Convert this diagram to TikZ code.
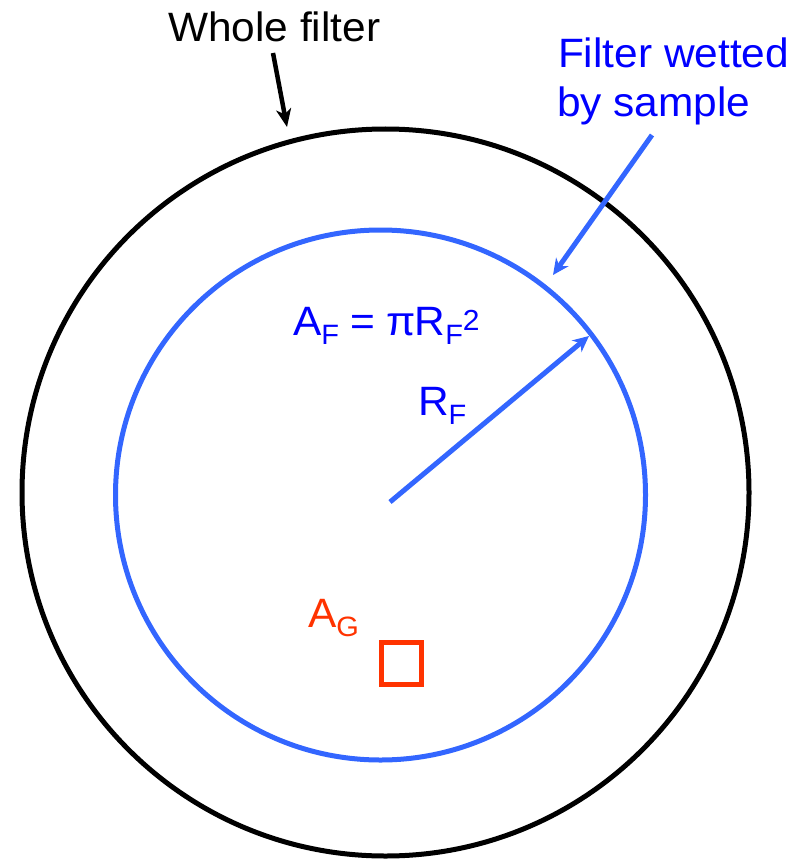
\documentclass[tikz,border=0pt]{standalone}
\usepackage{fontspec}
\setmainfont{Liberation Sans}[FakeStretch=1.035]
\usetikzlibrary{arrows.meta}
\definecolor{lineblue}{HTML}{3366FF}
\definecolor{textblue}{HTML}{0000FF}
\definecolor{agred}{HTML}{FF3300}
\newcommand\lowsub[1]{\raisebox{-9pt}{\fontsize{28}{28}\selectfont #1}}
\newcommand\highsup[1]{\raisebox{5pt}{\fontsize{29}{29}\selectfont #1}}
\begin{document}
\begin{tikzpicture}[x=1pt,y=-1pt,
  lbl/.style={inner sep=0pt, outer sep=0pt, anchor=base west, font=\fontsize{41}{49}\selectfont},
  ring/.style={line width=5pt},
  bluearrow/.style={draw=lineblue, line width=5pt, -{Stealth[length=16pt,width=15pt,inset=5pt]}},
  blackarrow/.style={draw=black, line width=4.5pt, -{Stealth[length=18pt,width=15pt,inset=5pt]}}]
\path[use as bounding box] (0,0) rectangle (802,861);
% circles
\draw[ring, black] (385.5,492.5) circle[radius=363.5];
\draw[ring, lineblue] (380.5,495) circle[radius=265];
% labels
\node[lbl, text=black] (whole) at (168,42) {Whole filter};
\node[lbl, text=textblue] (wet1) at (558,68) {Filter wetted};
\node[lbl, text=textblue] (wet2) at (557,117) {by sample};
\node[lbl, text=textblue] (af) at (293,335) {A\lowsub{F} = \kern-1ptπ\kern-1ptR\lowsub{F}\highsup{2}};
\node[lbl, text=textblue] (rf) at (418,415) {R\lowsub{F}};
\node[lbl, text=agred] (agl) at (308,627) {A\lowsub{G}};
\node[draw=agred, line width=5pt, minimum width=40pt, minimum height=42pt, inner sep=0pt, outer sep=0pt] (ag) at (401,663.5) {};
% connector ends
\coordinate (wstart) at (273,53);
\coordinate (wtip) at (287,127);
\coordinate (bstart) at (652,135);
\coordinate (btip) at (553,275);
\coordinate (rstart) at (390,502);
\coordinate (rtip) at (589,336);
\draw[blackarrow] (wstart) -- (wtip);
\draw[bluearrow] (bstart) -- (btip);
\draw[bluearrow] (rstart) -- (rtip);
\end{tikzpicture}
\end{document}
